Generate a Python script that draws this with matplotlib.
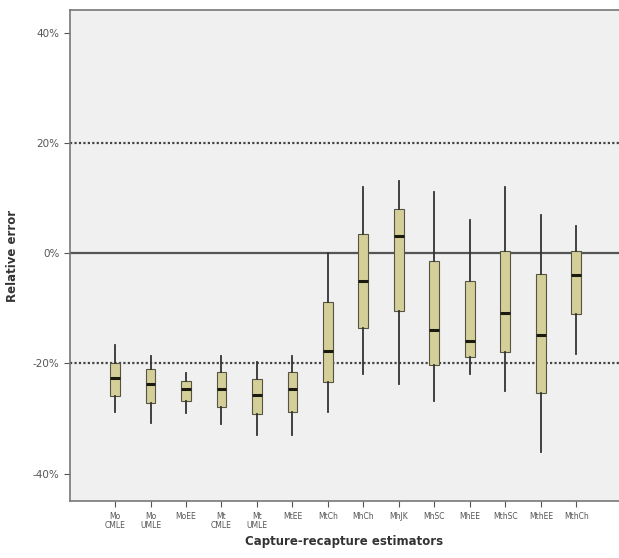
"""Boxplots of relative error by capture-recapture estimator."""
import matplotlib
matplotlib.use("Agg")
import matplotlib.pyplot as plt
from matplotlib.ticker import FuncFormatter

labels = ["Mo\nCMLE", "Mo\nUMLE", "MoEE", "Mt\nCMLE", "Mt\nUMLE", "MtEE", "MtCh",
          "MhCh", "MhJK", "MhSC", "MhEE", "MthSC", "MthEE", "MthCh"]
whislo = [-28.8, -30.8, -29.0, -31.0, -33.0, -33.0, -28.8,
          -22.0, -23.8, -26.8, -22.0, -25.0, -36.0, -18.2]
q1     = [-26.0, -27.2, -26.8, -27.9, -29.2, -28.8, -23.4,
          -13.5, -10.5, -20.2, -18.9, -18.0, -25.4, -11.0]
med    = [-22.7, -23.8, -24.7, -24.7, -25.8, -24.7, -17.8,
          -5.0, 3.1, -13.9, -15.9, -10.9, -14.8, -4.0]
q3     = [-20.0, -21.0, -23.2, -21.6, -22.9, -21.6, -8.8,
          3.6, 8.1, -1.4, -5.0, 0.5, -3.8, 0.5]
whishi = [-16.6, -18.7, -21.8, -18.7, -19.8, -18.7, 0.0,
          12.1, 13.2, 11.2, 6.1, 12.1, 7.0, 5.0]

stats = []
for i in range(len(labels)):
    stats.append({"whislo": whislo[i], "q1": q1[i], "med": med[i],
                  "q3": q3[i], "whishi": whishi[i], "fliers": []})

fig = plt.figure(figsize=(6.19, 5.58), dpi=100)
ax = fig.add_axes([0.113, 0.102, 0.887, 0.880])
ax.set_facecolor("#F0F0F0")

ax.axhline(0, color="#555555", lw=1.6, zorder=1)
for y in (20, -20):
    ax.axhline(y, color="#444444", lw=1.6, ls=(0, (1, 1)), zorder=1)

positions = list(range(1, len(labels) + 1))
ax.bxp(stats, positions=positions, widths=0.28, patch_artist=True,
       showcaps=False,
       boxprops=dict(facecolor="#D4CF98", edgecolor="#555544", lw=0.8),
       medianprops=dict(color="#1a1a10", lw=2.2),
       whiskerprops=dict(color="#333333", lw=1.3),
       manage_ticks=False, zorder=3)

ax.set_xlim(-0.27, 15.2)
ax.set_ylim(-45, 44.2)
ax.set_yticks([-40, -20, 0, 20, 40])
ax.yaxis.set_major_formatter(FuncFormatter(lambda v, p: f"{v:.0f}%"))
ax.set_xticks(positions)
ax.set_xticklabels(labels, fontsize=5.5, color="#555555", linespacing=1.0)
ax.tick_params(axis="y", labelsize=7.5, labelcolor="#555555", color="#555555", length=4)
ax.tick_params(axis="x", color="#555555", length=4)

for s in ("left", "bottom", "top"):
    ax.spines[s].set_color("#777777")
    ax.spines[s].set_linewidth(1.2)
ax.spines["right"].set_visible(False)

ax.set_ylabel("Relative error", fontsize=8.5, fontweight="bold", color="#333333", labelpad=10)
ax.set_xlabel("Capture-recapture estimators", fontsize=8.5, fontweight="bold",
              color="#333333", labelpad=4)

fig.savefig("out.png", dpi=100)
